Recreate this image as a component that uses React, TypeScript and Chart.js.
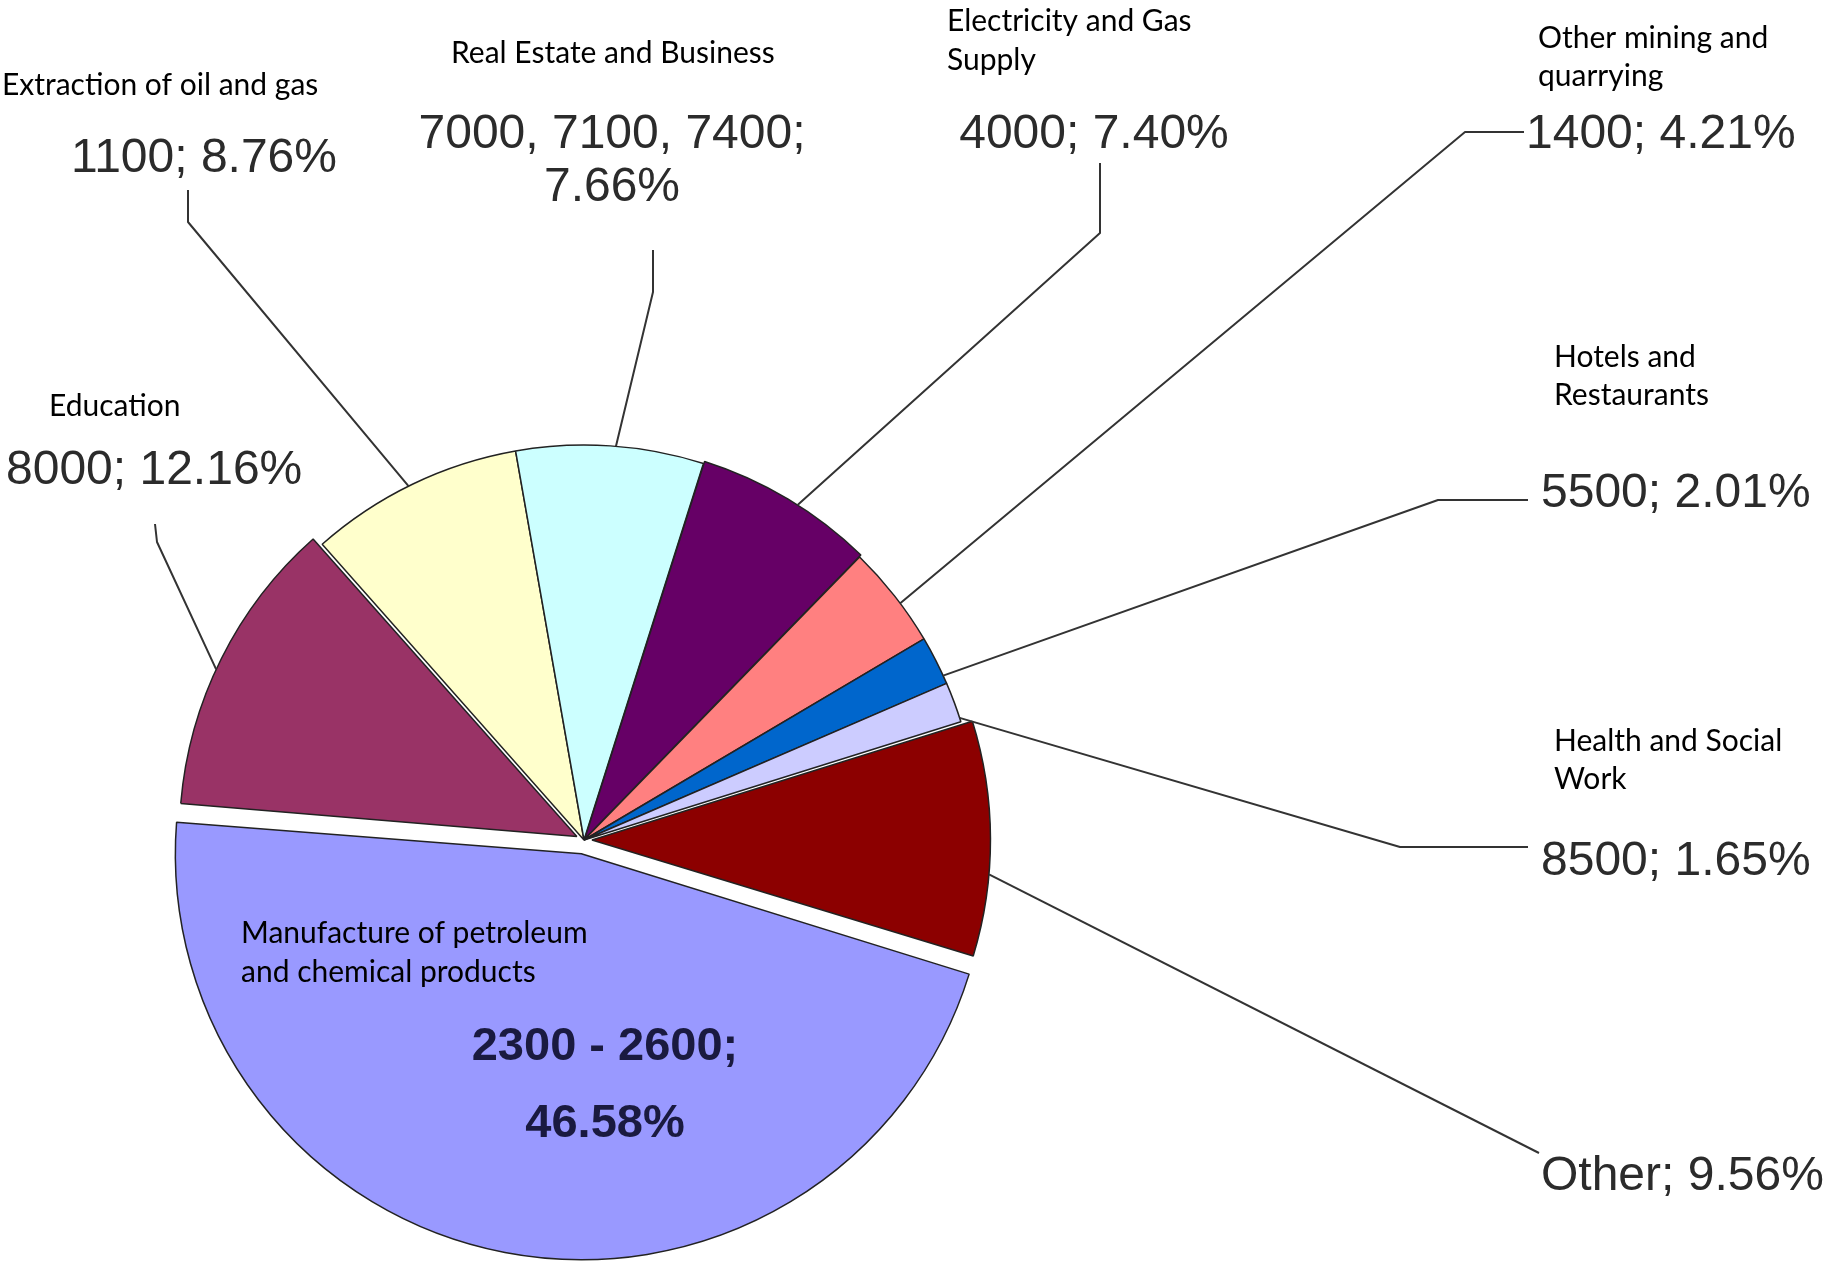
import React, { useEffect, useRef } from "react";
import { Chart, registerables } from "chart.js";

Chart.register(...registerables);

// ---- data ----
const categories = [
  "Manufacture of petroleum\nand chemical products",
  "Education",
  "Extraction of oil and gas",
  "Real Estate and Business",
  "Electricity and Gas\nSupply",
  "Other mining and\nquarrying",
  "Hotels and\nRestaurants",
  "Health and Social\nWork",
  "Other",
];
const sharePct = [46.58, 12.16, 8.76, 7.66, 7.4, 4.21, 2.01, 1.65, 9.56];
const codes = ["2300 - 2600", "8000", "1100", "7000, 7100, 7400", "4000", "1400", "5500", "8500", "Other"];
const showCategory = [true, true, true, true, true, true, true, true, false];
const wrapValue = [true, false, false, true, false, false, false, false, false];

// ---- styling / layout ----
const colors = ["#9999FF", "#993366", "#FFFFCC", "#CCFFFF", "#660066", "#FF8080", "#0066CC", "#CCCCFF", "#8C0000"];
const explode = [56, 32, 0, 0, 6, 0, 0, 0, 32];

type Lay = {
  cat?: { x: number; y: number[] };
  val: { x: number; y: number[]; align: CanvasTextAlign; bold?: boolean; color?: string };
  leader?: number[][];
  frac?: number;
};

const layout: Lay[] = [
  { cat: { x: 241, y: [933, 972] }, val: { x: 605, y: [1047, 1124], align: "center", bold: true, color: "#1a1a40" } },
  { cat: { x: 49, y: [406] }, val: { x: 6, y: [471], align: "left" }, leader: [[155, 524], [157, 542]], frac: 0.46 },
  { cat: { x: 2, y: [85] }, val: { x: 204, y: [159], align: "center" }, leader: [[188, 190], [188, 222]], frac: 0.48 },
  { cat: { x: 451, y: [53] }, val: { x: 612, y: [135, 188], align: "center" }, leader: [[653, 250], [653, 292]], frac: 0.53 },
  { cat: { x: 947, y: [21, 60] }, val: { x: 1094, y: [135], align: "center" }, leader: [[1100, 163], [1100, 233]], frac: 0.56 },
  { cat: { x: 1538, y: [38, 76] }, val: { x: 1526, y: [135], align: "left" }, leader: [[1524, 132], [1465, 132]], frac: 0.59 },
  { cat: { x: 1554, y: [357, 395] }, val: { x: 1541, y: [494], align: "left" }, leader: [[1528, 500], [1438, 500]], frac: 0.83 },
  { cat: { x: 1554, y: [741, 779] }, val: { x: 1541, y: [862], align: "left" }, leader: [[1528, 847], [1400, 847]], frac: 0.9 },
  { val: { x: 1541, y: [1177], align: "left" }, leader: [[1539, 1153]], frac: 0.65 },
];

const labelPlugin = {
  id: "sliceLabels",
  afterDatasetsDraw(chart: any) {
    const ctx: CanvasRenderingContext2D = chart.ctx;
    const meta = chart.getDatasetMeta(0);
    ctx.save();
    meta.data.forEach((arc: any, i: number) => {
      const L = layout[i];
      const p = arc.getProps(["x", "y", "startAngle", "endAngle", "outerRadius", "circumference"], true);
      const off = (arc.options.offset || 0) / 4;
      const fix = 1 - Math.sin(Math.min(Math.PI, p.circumference));
      const mid = (p.startAngle + p.endAngle) / 2;
      const cx = p.x + Math.cos(mid) * off;
      const cy = p.y + Math.sin(mid) * off;
      const rr = p.outerRadius + off * fix;

      if (L.leader) {
        const a = p.startAngle + (p.endAngle - p.startAngle) * (L.frac ?? 0.5);
        const ax = cx + Math.cos(a) * rr;
        const ay = cy + Math.sin(a) * rr;
        ctx.beginPath();
        ctx.strokeStyle = "#333333";
        ctx.lineWidth = 2;
        ctx.lineJoin = "round";
        ctx.moveTo(L.leader[0][0], L.leader[0][1]);
        for (let k = 1; k < L.leader.length; k++) ctx.lineTo(L.leader[k][0], L.leader[k][1]);
        ctx.lineTo(ax, ay);
        ctx.stroke();
      }

      // value label
      const pctText = sharePct[i].toFixed(2) + "%";
      const lines = wrapValue[i] ? [codes[i] + ";", pctText] : [codes[i] + "; " + pctText];
      ctx.font = L.val.bold ? 'bold 47px "Liberation Sans", Arial, sans-serif' : '48px "Liberation Sans", Arial, sans-serif';
      ctx.fillStyle = L.val.color || "#2b2b2b";
      ctx.textAlign = L.val.align;
      ctx.textBaseline = "middle";
      lines.forEach((t, k) => ctx.fillText(t, L.val.x, L.val.y[k]));

      // category label
      if (showCategory[i] && L.cat) {
        ctx.font = '30px Lato, "Open Sans", sans-serif';
        ctx.fillStyle = "#000000";
        ctx.textAlign = "left";
        ctx.textBaseline = "middle";
        categories[i].split("\n").forEach((t, k) => ctx.fillText(t, L.cat!.x, L.cat!.y[k]));
      }
    });
    ctx.restore();
  },
};

export default function App() {
  const ref = useRef<HTMLCanvasElement>(null);
  useEffect(() => {
    const chart = new Chart(ref.current as HTMLCanvasElement, {
      type: "pie",
      data: {
        labels: categories.map((c) => c.replace("\n", " ")),
        datasets: [
          {
            data: sharePct,
            backgroundColor: colors,
            borderColor: "#222222",
            borderWidth: 1.5,
            offset: explode,
            rotation: 107,
            radius: 395,
          } as any,
        ],
      },
      options: {
        responsive: false,
        animation: false,
        events: [],
        rotation: 107,
        radius: 395,
        layout: { padding: { left: 0, right: 677, top: 420, bottom: 8 } },
        plugins: { legend: { display: false }, tooltip: { enabled: false }, title: { display: false } },
      } as any,
      plugins: [labelPlugin],
    });
    return () => chart.destroy();
  }, []);
  return (
    <div style={{ position: "absolute", left: 0, top: 0, width: 1845, height: 1268, background: "#ffffff" }}>
      <canvas ref={ref} width={1845} height={1268} style={{ display: "block" }} />
    </div>
  );
}
